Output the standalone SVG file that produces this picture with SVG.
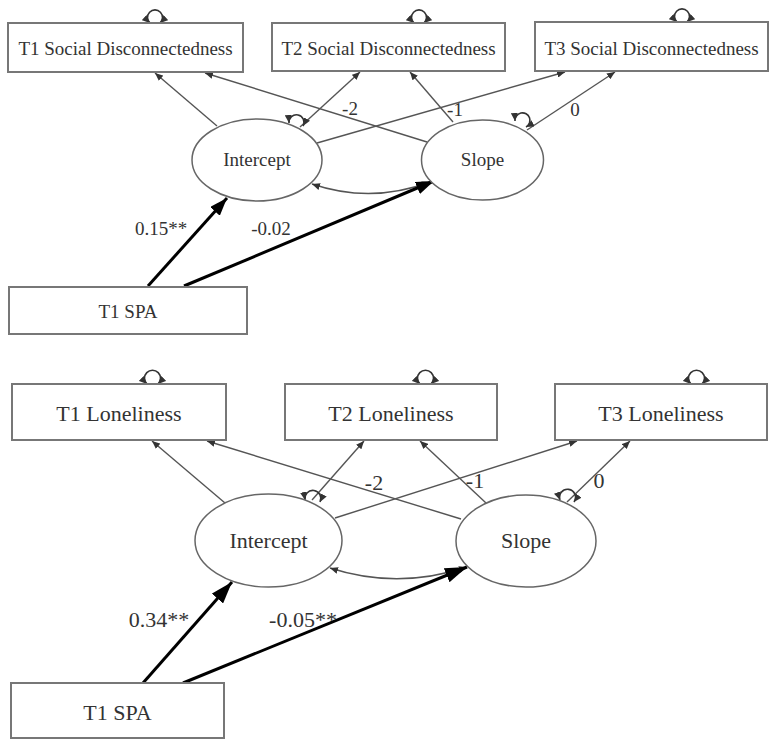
<svg xmlns="http://www.w3.org/2000/svg" width="777" height="747" viewBox="0 0 777 747">
<style>
.box{fill:#fff;stroke:#777;stroke-width:2}
.ell{fill:#fff;stroke:#666;stroke-width:1.5}
.t1{font-family:"Liberation Serif",serif;font-size:19px;fill:#333;text-anchor:middle}
.t2{font-family:"Liberation Serif",serif;font-size:22px;fill:#333;text-anchor:middle}
.thin{fill:none;stroke:#555;stroke-width:1.4}
.thick{fill:none;stroke:#000;stroke-width:3}
.loop{fill:none;stroke:#333;stroke-width:1.6;marker-start:url(#a);marker-end:url(#a)}
</style>
<defs>
<marker id="a" markerUnits="userSpaceOnUse" markerWidth="8" markerHeight="7" refX="8" refY="3.5" orient="auto-start-reverse"><path d="M0,0 L8,3.5 L0,7 z" fill="#333"/></marker>
<marker id="A1" markerUnits="userSpaceOnUse" markerWidth="18" markerHeight="13" refX="18" refY="6.5" orient="auto"><path d="M0,0 L18,6.5 L0,13 z" fill="#000"/></marker>
<marker id="A2" markerUnits="userSpaceOnUse" markerWidth="22" markerHeight="15" refX="22" refY="7.5" orient="auto"><path d="M0,0 L22,7.5 L0,15 z" fill="#000"/></marker>
</defs>
<rect width="777" height="747" fill="#fff"/>

<g id="connectors">
<!-- top panel -->
<line class="thin" x1="217" y1="126" x2="155" y2="73" marker-end="url(#a)"/>
<line class="thin" x1="427" y1="142" x2="205" y2="73" marker-end="url(#a)"/>
<line class="thin" x1="300" y1="127" x2="360" y2="72" marker-end="url(#a)"/>
<line class="thin" x1="453" y1="122" x2="410" y2="72" marker-end="url(#a)"/>
<line class="thin" x1="317" y1="143" x2="565" y2="72" marker-end="url(#a)"/>
<line class="thin" x1="527" y1="130" x2="615" y2="72" marker-end="url(#a)"/>
<path class="thin" d="M430,182 Q371,204 312,184" marker-start="url(#a)" marker-end="url(#a)"/>
<line class="thick" x1="148" y1="286" x2="227" y2="198" marker-end="url(#A1)"/>
<line class="thick" x1="184" y1="286" x2="434" y2="181" marker-end="url(#A1)"/>
<path class="loop" d="M150,23 A7.5,7.5 0 1 1 160,23"/>
<path class="loop" d="M414,23 A7.5,7.5 0 1 1 424,23"/>
<path class="loop" d="M677,22 A7.5,7.5 0 1 1 687,22"/>
<path class="loop" d="M289,123 A7.5,7.5 0 1 1 303,126"/>
<path class="loop" d="M515,121 A7.5,7.5 0 1 1 526,127"/>
<text class="t1" x="350" y="115">-2</text>
<text class="t1" x="455" y="116">-1</text>
<text class="t1" x="575" y="116">0</text>
<text class="t1" x="161" y="235">0.15**</text>
<text class="t1" x="271" y="235">-0.02</text>
<!-- bottom panel -->
<line class="thin" x1="225" y1="503" x2="152" y2="441" marker-end="url(#a)"/>
<line class="thin" x1="461" y1="519" x2="207" y2="441" marker-end="url(#a)"/>
<line class="thin" x1="312" y1="500" x2="364" y2="441" marker-end="url(#a)"/>
<line class="thin" x1="486" y1="503" x2="420" y2="441" marker-end="url(#a)"/>
<line class="thin" x1="335" y1="518" x2="577" y2="441" marker-end="url(#a)"/>
<line class="thin" x1="567" y1="502" x2="630" y2="441" marker-end="url(#a)"/>
<path class="thin" d="M467,567 Q398,590 330,568" marker-start="url(#a)" marker-end="url(#a)"/>
<line class="thick" x1="143" y1="683" x2="232" y2="582" marker-end="url(#A2)"/>
<line class="thick" x1="183" y1="683" x2="467" y2="567" marker-end="url(#A2)"/>
<path class="loop" d="M147,384 A8,8 0 1 1 158,384"/>
<path class="loop" d="M420,384 A8,8 0 1 1 431,384"/>
<path class="loop" d="M691,384 A8,8 0 1 1 702,384"/>
<path class="loop" d="M305,500 A8,8 0 1 1 320,502"/>
<path class="loop" d="M560,500 A8,8 0 1 1 574,502"/>
<text class="t2" x="374" y="490">-2</text>
<text class="t2" x="475" y="488">-1</text>
<text class="t2" x="599" y="488">0</text>
<text class="t2" x="159" y="627">0.34**</text>
<text class="t2" x="303" y="627">-0.05**</text>
</g>

<g id="sd1"><rect class="box" x="8" y="23" width="235" height="49"/><text class="t1" x="125.5" y="55">T1 Social Disconnectedness</text></g>
<g id="sd2"><rect class="box" x="272" y="23" width="233" height="48"/><text class="t1" x="388.5" y="55">T2 Social Disconnectedness</text></g>
<g id="sd3"><rect class="box" x="535" y="22" width="233" height="49"/><text class="t1" x="651.5" y="55">T3 Social Disconnectedness</text></g>
<g id="int1"><ellipse class="ell" cx="257" cy="160" rx="65" ry="41"/><text class="t1" x="257" y="166">Intercept</text></g>
<g id="slope1"><ellipse class="ell" cx="482.5" cy="160" rx="61" ry="40"/><text class="t1" x="482.5" y="166">Slope</text></g>
<g id="spa1"><rect class="box" x="9" y="287" width="238" height="47"/><text class="t1" x="128" y="318">T1 SPA</text></g>

<g id="lon1"><rect class="box" x="12" y="384" width="214" height="56"/><text class="t2" x="119" y="421">T1 Loneliness</text></g>
<g id="lon2"><rect class="box" x="285" y="384" width="212" height="56"/><text class="t2" x="391" y="421">T2 Loneliness</text></g>
<g id="lon3"><rect class="box" x="555" y="384" width="212" height="56"/><text class="t2" x="661" y="421">T3 Loneliness</text></g>
<g id="int2"><ellipse class="ell" cx="268.5" cy="540.5" rx="73.5" ry="46.5"/><text class="t2" x="268.5" y="548">Intercept</text></g>
<g id="slope2"><ellipse class="ell" cx="526" cy="541" rx="70" ry="46"/><text class="t2" x="526" y="548">Slope</text></g>
<g id="spa2"><rect class="box" x="11" y="683" width="213" height="55"/><text class="t2" x="117.5" y="720">T1 SPA</text></g>
</svg>
